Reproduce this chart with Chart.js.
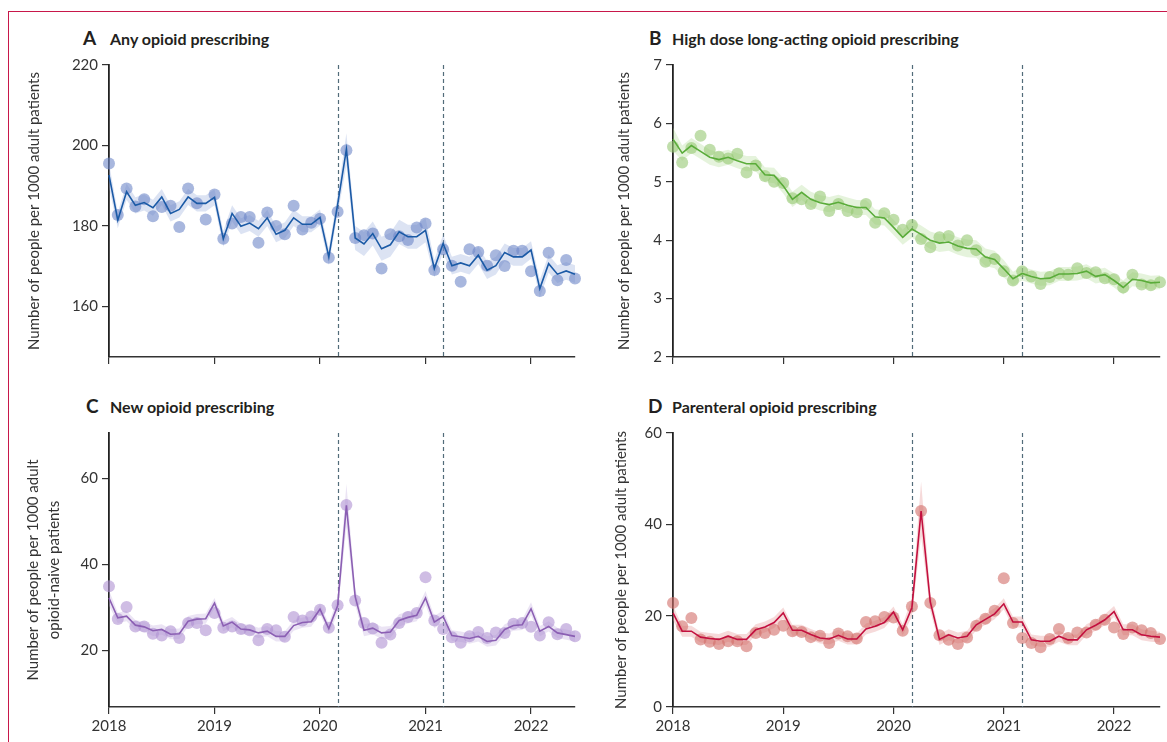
<!DOCTYPE html>
<html><head><meta charset="utf-8">
<script src="https://cdn.jsdelivr.net/npm/chart.js@4.4.0/dist/chart.umd.min.js"></script>
<style>
html,body{margin:0;padding:0;background:#fff;}
body{width:1167px;height:742px;position:relative;overflow:hidden;font-family:Lato,'Open Sans',sans-serif;}
.frame{position:absolute;left:8px;top:11px;width:1200px;height:800px;border-top:1.5px solid #c8174a;border-left:1.5px solid #c8174a;}
canvas{position:absolute;}
.t{position:absolute;font-weight:700;color:#231f20;white-space:nowrap;line-height:1;}
.let{font-size:19px;}
.txt{font-size:16px;}
</style></head>
<body>
<div class="frame"></div>
<div class="t let" style="left:83px;top:28px">A</div><div class="t txt" style="left:110px;top:31px">Any opioid prescribing</div>
<div class="t let" style="left:649px;top:28px">B</div><div class="t txt" style="left:672px;top:31px">High dose long-acting opioid prescribing</div>
<div class="t let" style="left:86px;top:396px">C</div><div class="t txt" style="left:110px;top:399px">New opioid prescribing</div>
<div class="t let" style="left:648px;top:396px">D</div><div class="t txt" style="left:672px;top:399px">Parenteral opioid prescribing</div>
<canvas id="cA" width="590" height="330" style="left:0;top:50px"></canvas>
<canvas id="cB" width="577" height="330" style="left:590px;top:50px"></canvas>
<canvas id="cC" width="590" height="322" style="left:0;top:420px"></canvas>
<canvas id="cD" width="577" height="322" style="left:590px;top:420px"></canvas>
<script>
// ---- categories ----
const years = ['2018','2019','2020','2021','2022'];
const monthNames = ['Jan','Feb','Mar','Apr','May','Jun','Jul','Aug','Sep','Oct','Nov','Dec'];
const months = [];
years.forEach(y => monthNames.forEach(m => months.push(m + ' ' + y)));
months.length = 54; // Jan 2018 – Jun 2022
const yearTickLabels = ['2018','2019','2020','2021','2022'];
const interruptions = ['Mar 2020','Mar 2021'];

// ---- A: any opioid prescribing ----
const obsA = [195.5,182.7,189.3,184.8,186.6,182.4,184.7,185.0,179.7,189.3,185.6,181.6,187.8,176.8,180.6,182.2,182.2,175.8,183.3,180.0,177.9,185.0,179.1,180.8,181.8,172.1,183.5,198.8,177.0,177.7,178.1,169.4,177.9,177.4,176.5,179.6,180.6,169.0,174.2,170.1,166.1,174.2,173.5,170.1,172.7,170.0,173.8,173.8,168.7,163.8,173.3,166.5,171.5,166.9];
const fitA = [192.6,181.4,188.5,185.1,185.8,184.5,187.2,183.1,184.1,187.2,185.6,185.6,187.1,176.8,183.1,179.9,180.7,179.3,182.0,177.9,178.9,182.0,180.4,180.4,182.1,172.3,185.3,199.0,177.0,175.5,178.1,174.3,175.3,178.5,177.3,177.3,178.9,169.4,175.6,170.1,170.8,170.1,172.7,169.0,170.1,173.4,172.3,172.3,174.0,164.4,170.6,168.0,168.8,168.0];
const loA = [189.6,179.4,186.5,183.1,183.8,182.5,185.2,181.1,182.1,185.2,183.6,183.6,185.1,174.8,181.1,177.9,178.7,177.3,180.0,175.9,176.9,180.0,178.4,178.4,180.1,170.3,182.8,195.0,174.0,172.5,175.1,171.3,172.3,175.5,174.3,174.3,175.9,167.2,173.4,167.9,168.6,167.9,170.5,166.8,167.9,171.2,170.1,170.1,171.8,162.2,168.4,165.8,166.6,165.8];
const hiA = [195.6,183.4,190.5,187.1,187.8,186.5,189.2,185.1,186.1,189.2,187.6,187.6,189.1,178.8,185.1,181.9,182.7,181.3,184.0,179.9,180.9,184.0,182.4,182.4,184.1,174.3,187.8,203.0,180.0,178.5,181.1,177.3,178.3,181.5,180.3,180.3,181.9,171.6,177.8,172.3,173.0,172.3,174.9,171.2,172.3,175.6,174.5,174.5,176.2,166.6,172.8,170.2,171.0,170.2];
const ticksA = [160,180,200,220];

// ---- B: high dose long-acting opioid prescribing ----
const obsB = [5.60,5.33,5.58,5.79,5.55,5.43,5.40,5.48,5.16,5.28,5.10,5.00,4.98,4.72,4.70,4.62,4.75,4.50,4.62,4.50,4.48,4.62,4.30,4.46,4.35,4.18,4.26,4.02,3.88,4.05,4.07,3.91,4.00,3.83,3.63,3.68,3.47,3.31,3.47,3.38,3.25,3.37,3.43,3.41,3.52,3.44,3.45,3.35,3.33,3.19,3.41,3.24,3.23,3.28];
const fitB = [5.73,5.49,5.62,5.52,5.42,5.38,5.42,5.36,5.31,5.31,5.12,5.11,4.93,4.70,4.82,4.70,4.64,4.61,4.65,4.60,4.56,4.56,4.40,4.38,4.22,4.05,4.19,4.10,4.00,3.95,3.97,3.90,3.86,3.85,3.71,3.67,3.51,3.34,3.43,3.38,3.34,3.35,3.42,3.42,3.43,3.47,3.38,3.41,3.31,3.19,3.33,3.31,3.27,3.28];
const loB = [5.53,5.36,5.49,5.39,5.29,5.25,5.29,5.23,5.18,5.18,4.99,4.98,4.80,4.57,4.69,4.57,4.51,4.48,4.52,4.47,4.43,4.43,4.27,4.25,4.09,3.92,4.04,3.95,3.85,3.80,3.82,3.75,3.71,3.70,3.56,3.52,3.36,3.22,3.31,3.26,3.22,3.23,3.30,3.30,3.31,3.35,3.26,3.29,3.19,3.07,3.21,3.19,3.15,3.16];
const hiB = [5.93,5.62,5.75,5.65,5.55,5.51,5.55,5.49,5.44,5.44,5.25,5.24,5.06,4.83,4.95,4.83,4.77,4.74,4.78,4.73,4.69,4.69,4.53,4.51,4.35,4.18,4.34,4.25,4.15,4.10,4.12,4.05,4.01,4.00,3.86,3.82,3.66,3.46,3.55,3.50,3.46,3.47,3.54,3.54,3.55,3.59,3.50,3.53,3.43,3.31,3.45,3.43,3.39,3.40];
const ticksB = [2,3,4,5,6,7];

// ---- C: new opioid prescribing ----
const obsC = [34.9,27.3,30.1,25.6,25.6,23.9,23.5,24.5,22.9,26.4,26.4,24.7,28.7,25.3,25.6,25.0,24.7,22.4,25.0,24.7,23.2,27.8,27.0,27.9,29.5,25.3,30.5,53.8,31.6,26.4,25.1,21.8,23.7,26.4,27.8,28.7,37.0,27.0,25.0,23.1,21.8,23.3,24.3,22.9,24.2,24.1,26.2,26.4,25.5,23.5,26.6,23.8,25.0,23.3];
const fitC = [32.2,27.6,28.0,25.9,25.5,24.6,24.9,23.8,23.9,26.8,27.3,27.4,31.0,25.7,26.6,25.0,24.8,24.1,24.5,23.3,23.3,25.8,26.5,26.7,29.6,25.1,30.4,53.7,32.5,24.7,25.2,24.1,24.3,27.0,27.7,28.2,32.2,26.6,27.9,23.5,23.2,22.8,23.3,22.1,22.4,24.9,25.8,26.0,29.7,24.5,25.6,24.1,23.7,23.3];
const loC = [30.4,26.4,26.8,24.7,24.3,23.4,23.7,22.6,22.7,25.6,26.1,26.2,29.8,24.5,25.4,23.8,23.6,22.9,23.3,22.1,22.1,24.6,25.3,25.5,28.4,23.9,28.6,48.7,30.5,23.3,23.8,22.7,22.9,25.6,26.3,26.8,30.6,25.2,26.5,22.3,22.0,21.6,22.1,20.9,21.2,23.7,24.6,24.8,28.2,23.3,24.4,22.9,22.5,22.1];
const hiC = [34.0,28.8,29.2,27.1,26.7,25.8,26.1,25.0,25.1,28.0,28.5,28.6,32.2,26.9,27.8,26.2,26.0,25.3,25.7,24.5,24.5,27.0,27.7,27.9,30.8,26.3,32.2,58.7,34.5,26.1,26.6,25.5,25.7,28.4,29.1,29.6,33.8,28.0,29.3,24.7,24.4,24.0,24.5,23.3,23.6,26.1,27.0,27.2,31.2,25.7,26.8,25.3,24.9,24.5];
const ticksC = [20,40,60];

// ---- D: parenteral opioid prescribing ----
const obsD = [22.8,17.7,19.5,14.8,14.3,13.8,14.4,14.4,13.3,16.2,16.2,16.9,17.8,16.6,16.4,15.3,15.6,14.0,16.1,15.5,15.0,18.6,18.8,19.7,19.6,16.7,22.0,42.9,22.8,15.7,14.7,13.8,15.2,17.8,19.3,21.1,28.2,18.4,15.1,14.0,13.1,14.9,17.1,15.1,16.3,16.3,18.0,19.1,17.4,16.0,17.4,16.8,16.2,14.9];
const fitD = [20.6,16.6,16.6,15.3,15.0,14.8,15.5,14.8,14.8,16.9,17.5,18.5,20.6,16.8,16.8,15.9,15.1,14.9,15.7,14.9,14.9,17.1,17.7,18.5,20.8,16.9,21.8,42.9,23.0,14.8,15.8,15.1,15.5,18.0,19.2,20.4,22.6,18.6,18.6,14.7,14.4,14.4,15.5,14.7,14.7,16.9,17.9,19.1,20.9,16.9,16.9,15.8,15.5,15.3];
const loD = [19.0,15.4,15.4,14.1,13.8,13.6,14.3,13.6,13.6,15.7,16.3,17.3,19.4,15.6,15.6,14.7,13.9,13.7,14.5,13.7,13.7,15.9,16.5,17.3,19.6,15.7,19.8,37.4,21.0,13.6,14.6,13.9,14.3,16.8,18.0,19.2,21.4,17.4,17.4,13.5,13.2,13.2,14.3,13.5,13.5,15.7,16.7,17.9,19.7,15.7,15.7,14.6,14.3,14.1];
const hiD = [22.2,17.8,17.8,16.5,16.2,16.0,16.7,16.0,16.0,18.1,18.7,19.7,21.8,18.0,18.0,17.1,16.3,16.1,16.9,16.1,16.1,18.3,18.9,19.7,22.0,18.1,23.8,49.4,25.0,16.0,17.0,16.3,16.7,19.2,20.4,21.6,23.8,19.8,19.8,15.9,15.6,15.6,16.7,15.9,15.9,18.1,19.1,20.3,22.1,18.1,18.1,17.0,16.7,16.5];
const ticksD = [0,20,40,60];

// ---- helpers ----
const yearTickIdx = yearTickLabels.map(y => months.indexOf('Jan ' + y));
const interruptIdx = interruptions.map(m => months.indexOf(m));
const pts = arr => arr.map((v, i) => ({x: i, y: v}));
const FONT = 'Lato, "Open Sans", sans-serif';

const interruptPlugin = {
  id: 'interrupt',
  beforeDatasetsDraw(chart) {
    const {ctx, chartArea, scales} = chart;
    ctx.save();
    ctx.strokeStyle = '#526c7a';
    ctx.lineWidth = 1.2;
    ctx.setLineDash([4, 3]);
    interruptIdx.forEach(v => {
      const px = Math.round(scales.x.getPixelForValue(v)) + 0.5;
      ctx.beginPath();
      ctx.moveTo(px, chartArea.top);
      ctx.lineTo(px, chartArea.bottom);
      ctx.stroke();
    });
    ctx.restore();
  }
};

function makeChart(id, c) {
  new Chart(document.getElementById(id), {
    type: 'line',
    data: {
      datasets: [
        {data: pts(c.fit), borderColor: c.line, borderWidth: 1.6, pointRadius: 0, fill: false, tension: 0, order: 0, clip: false},
        {data: pts(c.obs), showLine: false, pointRadius: 6, pointHoverRadius: 6, pointBackgroundColor: c.pt, pointBorderWidth: 0, pointBorderColor: 'rgba(0,0,0,0)', order: 1, clip: false},
        {data: pts(c.hi), borderWidth: 0, borderColor: 'rgba(0,0,0,0)', pointRadius: 0, fill: 3, backgroundColor: c.band, tension: 0, order: 2, clip: false},
        {data: pts(c.lo), borderWidth: 0, borderColor: 'rgba(0,0,0,0)', pointRadius: 0, fill: false, tension: 0, order: 3, clip: false}
      ]
    },
    options: {
      responsive: false, animation: false, devicePixelRatio: 1,
      layout: {autoPadding: false, padding: {top: c.padTop, right: c.padRight, bottom: 0, left: 0}},
      plugins: {legend: {display: false}, tooltip: {enabled: false}},
      events: [],
      scales: {
        x: {
          type: 'linear', min: 0, max: 53,
          afterBuildTicks: s => { s.ticks = yearTickIdx.map(v => ({value: v})); },
          afterFit: s => { s.height = c.xH; },
          grid: {drawOnChartArea: false, drawTicks: true, tickLength: 7, color: '#333', lineWidth: 1.2},
          border: {display: true, color: '#333', width: 1.6},
          ticks: {display: c.xLabels, autoSkip: false, maxRotation: 0, padding: 3, color: '#333',
                  font: {family: FONT, size: 15},
                  callback: v => yearTickLabels[yearTickIdx.indexOf(v)]}
        },
        y: {
          min: c.min, max: c.max,
          afterBuildTicks: s => { s.ticks = c.ticks.map(v => ({value: v})); },
          afterFit: s => { s.width = c.yW; },
          grid: {drawOnChartArea: false, drawTicks: true, tickLength: 7, color: '#333', lineWidth: 1.2},
          border: {display: true, color: '#222', width: 1.8},
          ticks: {padding: 4, color: '#333', font: {family: FONT, size: 15}},
          title: {display: true, text: c.title, color: '#333',
                  font: {family: FONT, size: 15, lineHeight: c.titleLH},
                  padding: {top: c.titlePad, bottom: 0}}
        }
      }
    },
    plugins: [interruptPlugin]
  });
}

makeChart('cA', {obs: obsA, fit: fitA, lo: loA, hi: hiA, ticks: ticksA, min: 147.4, max: 220,
  line: '#1b5aa6', pt: 'rgba(110,135,200,0.6)', band: 'rgba(150,170,220,0.33)',
  padTop: 15, padRight: 15, xH: 23, yW: 109, xLabels: false,
  title: 'Number of people per 1000 adult patients', titleLH: 1.2, titlePad: 25});
makeChart('cB', {obs: obsB, fit: fitB, lo: loB, hi: hiB, ticks: ticksB, min: 2, max: 7,
  line: '#5aac3a', pt: 'rgba(150,200,115,0.6)', band: 'rgba(170,215,140,0.3)',
  padTop: 15, padRight: 7, xH: 23, yW: 83, xLabels: false,
  title: 'Number of people per 1000 adult patients', titleLH: 1.2, titlePad: 25});
makeChart('cC', {obs: obsC, fit: fitC, lo: loC, hi: hiC, ticks: ticksC, min: 6.9, max: 70.5,
  line: '#8b5fb3', pt: 'rgba(175,145,210,0.6)', band: 'rgba(190,165,220,0.3)',
  padTop: 13, padRight: 15, xH: 35, yW: 109, xLabels: true,
  title: ['Number of people per 1000 adult', 'opioid-naive patients'], titleLH: 1.45, titlePad: 22});
makeChart('cD', {obs: obsD, fit: fitD, lo: loD, hi: hiD, ticks: ticksD, min: 0, max: 60,
  line: '#c3103f', pt: 'rgba(210,110,105,0.6)', band: 'rgba(230,150,150,0.35)',
  padTop: 13, padRight: 7, xH: 35, yW: 83, xLabels: true,
  title: 'Number of people per 1000 adult patients', titleLH: 1.2, titlePad: 22});
</script>
</body></html>
